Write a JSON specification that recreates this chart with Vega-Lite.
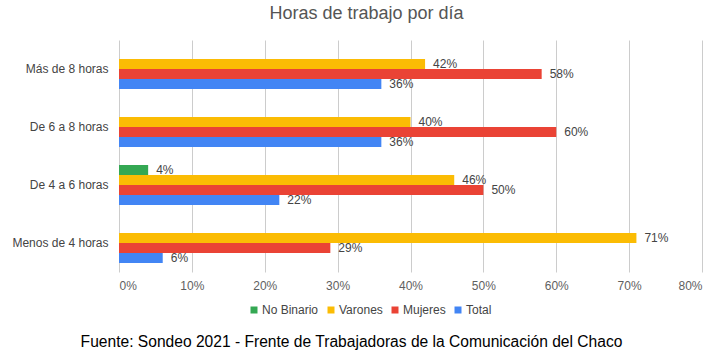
{
  "$schema": "https://vega.github.io/schema/vega-lite/v6.json",
  "width": 583,
  "height": 232,
  "autosize": "none",
  "padding": {"left": 119, "top": 40, "right": 25, "bottom": 86},
  "background": "white",
  "config": {"view": {"stroke": null}, "font": "Liberation Sans"},
  "title": {
    "text": "Horas de trabajo por día",
    "anchor": "middle",
    "frame": "group",
    "dx": -44,
    "offset": 17,
    "fontSize": 18,
    "font": "Liberation Sans",
    "fontWeight": "normal",
    "color": "#555555"
  },
  "data": {
    "values": [
      {"cat": "Más de 8 horas", "serie": "Varones", "valor": 0.42},
      {"cat": "Más de 8 horas", "serie": "Mujeres", "valor": 0.58},
      {"cat": "Más de 8 horas", "serie": "Total", "valor": 0.36},
      {"cat": "De 6 a 8 horas", "serie": "Varones", "valor": 0.40},
      {"cat": "De 6 a 8 horas", "serie": "Mujeres", "valor": 0.60},
      {"cat": "De 6 a 8 horas", "serie": "Total", "valor": 0.36},
      {"cat": "De 4 a 6 horas", "serie": "No Binario", "valor": 0.04},
      {"cat": "De 4 a 6 horas", "serie": "Varones", "valor": 0.46},
      {"cat": "De 4 a 6 horas", "serie": "Mujeres", "valor": 0.50},
      {"cat": "De 4 a 6 horas", "serie": "Total", "valor": 0.22},
      {"cat": "Menos de 4 horas", "serie": "Varones", "valor": 0.71},
      {"cat": "Menos de 4 horas", "serie": "Mujeres", "valor": 0.29},
      {"cat": "Menos de 4 horas", "serie": "Total", "valor": 0.06}
    ]
  },
  "encoding": {
    "y": {
      "field": "cat",
      "type": "nominal",
      "sort": ["Más de 8 horas", "De 6 a 8 horas", "De 4 a 6 horas", "Menos de 4 horas"],
      "scale": {"paddingInner": 0.31, "paddingOuter": 0.155},
      "axis": {
        "title": null,
        "labelFontSize": 12,
        "labelColor": "#444444",
        "labelPadding": 11,
        "ticks": false,
        "domain": false,
        "labelFont": "Liberation Sans"
      }
    },
    "yOffset": {
      "field": "serie",
      "type": "nominal",
      "scale": {"domain": ["No Binario", "Varones", "Mujeres", "Total"], "paddingInner": 0, "paddingOuter": 0}
    },
    "x": {
      "field": "valor",
      "type": "quantitative",
      "scale": {"domain": [0, 0.8], "nice": false},
      "axis": {
        "values": [0, 0.1, 0.2, 0.3, 0.4, 0.5, 0.6, 0.7, 0.8],
        "format": ".0%",
        "grid": true,
        "gridColor": "#cccccc",
        "domain": false,
        "ticks": false,
        "labelPadding": 8,
        "labelFontSize": 12,
        "labelColor": "#5f5f5f",
        "labelFont": "Liberation Sans",
        "title": "Fuente: Sondeo 2021 - Frente de Trabajadoras de la Comunicación del Chaco",
        "titleFont": "Liberation Sans",
        "titleFontSize": 15.6,
        "titleFontWeight": "normal",
        "titleColor": "#000000",
        "titleX": 232,
        "titleY": 69,
        "titleAlign": "center",
        "titleBaseline": "middle"
      }
    }
  },
  "layer": [
    {
      "mark": {"type": "bar"},
      "encoding": {
        "color": {
          "field": "serie",
          "type": "nominal",
          "scale": {
            "domain": ["No Binario", "Varones", "Mujeres", "Total"],
            "range": ["#34A853", "#FBBC04", "#EA4335", "#4285F4"]
          },
          "legend": {
            "title": null,
            "orient": "none",
            "legendX": 129,
            "legendY": 264,
            "direction": "horizontal",
            "symbolType": "square",
            "symbolSize": 49,
            "symbolStrokeWidth": 0,
            "labelFontSize": 12,
            "labelColor": "#444444",
            "labelFont": "Liberation Sans",
            "labelOffset": 2,
            "columnPadding": 6
          }
        }
      }
    },
    {
      "mark": {"type": "text", "align": "left", "baseline": "middle", "dx": 8, "fontSize": 12, "color": "#444444", "font": "Liberation Sans"},
      "encoding": {
        "text": {"field": "valor", "type": "quantitative", "format": ".0%"}
      }
    }
  ]
}
